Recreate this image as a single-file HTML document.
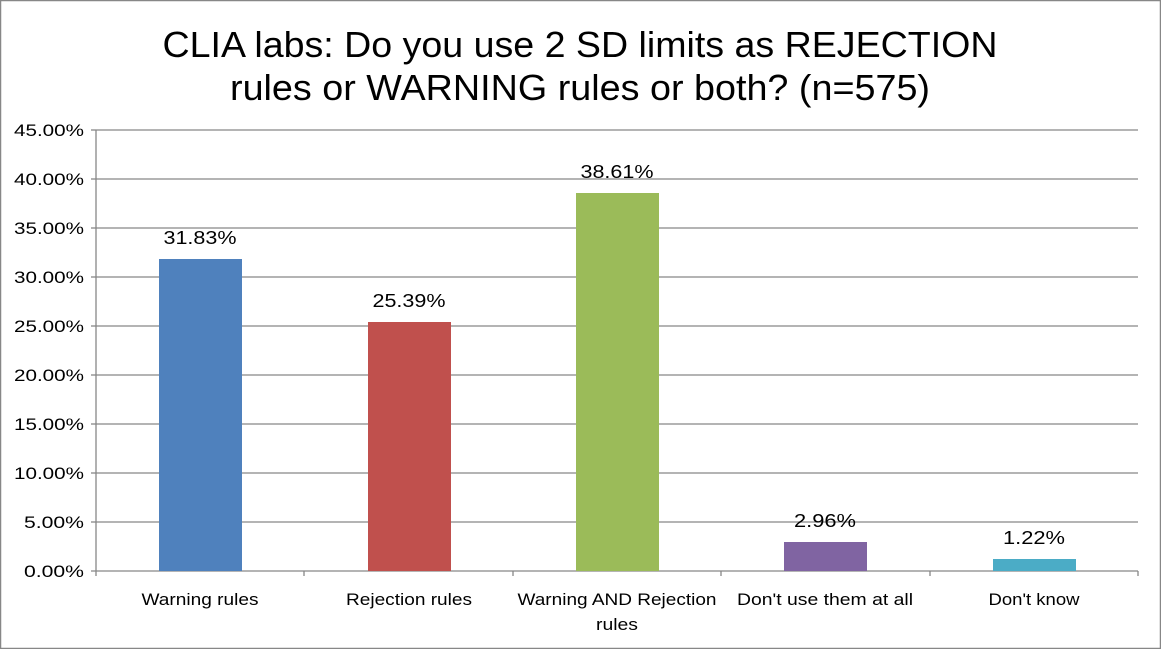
<!DOCTYPE html>
<html><head><meta charset="utf-8"><style>
body{margin:0;background:#fff;}
svg{display:block;}
text{font-family:"Liberation Sans",sans-serif;fill:#000;}
</style></head><body>
<svg width="1161" height="649" viewBox="0 0 1161 649">
<rect x="0.5" y="0.5" width="1160" height="648" fill="#fff" stroke="#878787" stroke-width="1.5"/>
<text x="580" y="57" font-size="36" text-anchor="middle" textLength="835" lengthAdjust="spacingAndGlyphs">CLIA labs: Do you use 2 SD limits as REJECTION</text>
<text x="580" y="100" font-size="36" text-anchor="middle" textLength="700" lengthAdjust="spacingAndGlyphs">rules or WARNING rules or both? (n=575)</text>
<g stroke="#878787" stroke-width="1.3">
<line x1="96" y1="130" x2="1138" y2="130"/><line x1="96" y1="179" x2="1138" y2="179"/>
<line x1="96" y1="228" x2="1138" y2="228"/><line x1="96" y1="277" x2="1138" y2="277"/>
<line x1="96" y1="326" x2="1138" y2="326"/><line x1="96" y1="375" x2="1138" y2="375"/>
<line x1="96" y1="424" x2="1138" y2="424"/><line x1="96" y1="473" x2="1138" y2="473"/>
<line x1="96" y1="522" x2="1138" y2="522"/>
<line x1="96" y1="130" x2="96" y2="576"/><line x1="91" y1="571" x2="1138" y2="571"/>
<line x1="91" y1="130" x2="96" y2="130"/><line x1="91" y1="179" x2="96" y2="179"/><line x1="91" y1="228" x2="96" y2="228"/><line x1="91" y1="277" x2="96" y2="277"/><line x1="91" y1="326" x2="96" y2="326"/><line x1="91" y1="375" x2="96" y2="375"/><line x1="91" y1="424" x2="96" y2="424"/><line x1="91" y1="473" x2="96" y2="473"/><line x1="91" y1="522" x2="96" y2="522"/>
<line x1="304" y1="571" x2="304" y2="576"/><line x1="513" y1="571" x2="513" y2="576"/><line x1="721" y1="571" x2="721" y2="576"/><line x1="930" y1="571" x2="930" y2="576"/><line x1="1138" y1="571" x2="1138" y2="576"/>
</g>
<g font-size="17" text-anchor="end">
<text x="84" y="136" textLength="70" lengthAdjust="spacingAndGlyphs">45.00%</text><text x="84" y="185" textLength="70" lengthAdjust="spacingAndGlyphs">40.00%</text><text x="84" y="234" textLength="70" lengthAdjust="spacingAndGlyphs">35.00%</text><text x="84" y="283" textLength="70" lengthAdjust="spacingAndGlyphs">30.00%</text><text x="84" y="332" textLength="70" lengthAdjust="spacingAndGlyphs">25.00%</text><text x="84" y="381" textLength="70" lengthAdjust="spacingAndGlyphs">20.00%</text><text x="84" y="430" textLength="70" lengthAdjust="spacingAndGlyphs">15.00%</text><text x="84" y="479" textLength="70" lengthAdjust="spacingAndGlyphs">10.00%</text><text x="84" y="528" textLength="60" lengthAdjust="spacingAndGlyphs">5.00%</text><text x="84" y="577" textLength="60" lengthAdjust="spacingAndGlyphs">0.00%</text>
</g>
<rect x="159" y="259" width="83" height="312" fill="#4f81bd"/>
<rect x="368" y="322" width="83" height="249" fill="#c0504d"/>
<rect x="576" y="193" width="83" height="378" fill="#9bbb59"/>
<rect x="784" y="542" width="83" height="29" fill="#8064a2"/>
<rect x="993" y="559" width="83" height="12" fill="#4bacc6"/>
<g font-size="18" text-anchor="middle">
<text x="200" y="244" textLength="73" lengthAdjust="spacingAndGlyphs">31.83%</text><text x="409" y="307" textLength="73" lengthAdjust="spacingAndGlyphs">25.39%</text><text x="617" y="178" textLength="73" lengthAdjust="spacingAndGlyphs">38.61%</text><text x="825" y="527" textLength="62" lengthAdjust="spacingAndGlyphs">2.96%</text><text x="1034" y="544" textLength="62" lengthAdjust="spacingAndGlyphs">1.22%</text>
</g>
<g font-size="17" text-anchor="middle">
<text x="200" y="605" textLength="117" lengthAdjust="spacingAndGlyphs">Warning rules</text><text x="409" y="605" textLength="126" lengthAdjust="spacingAndGlyphs">Rejection rules</text><text x="617" y="605" textLength="199" lengthAdjust="spacingAndGlyphs">Warning AND Rejection</text><text x="617" y="630" textLength="42" lengthAdjust="spacingAndGlyphs">rules</text><text x="825" y="605" textLength="176" lengthAdjust="spacingAndGlyphs">Don't use them at all</text><text x="1034" y="605" textLength="91" lengthAdjust="spacingAndGlyphs">Don't know</text>
</g>
</svg>
</body></html>
